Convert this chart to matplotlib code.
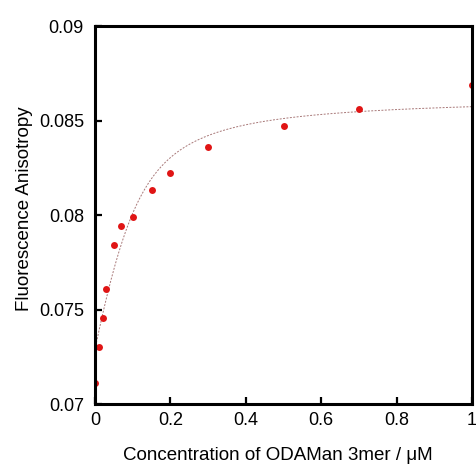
import numpy as np
import matplotlib
matplotlib.use('Agg')
import matplotlib.pyplot as plt

plt.rcParams['font.family'] = ['Liberation Sans', 'DejaVu Sans']

# measured anisotropy vs ligand concentration
conc = [0.0, 0.01, 0.02, 0.03, 0.05, 0.07, 0.10, 0.15, 0.20, 0.30, 0.50, 0.70, 1.00]
anisotropy = [0.0711, 0.0730, 0.07455, 0.0761, 0.0784, 0.0794, 0.0799,
              0.0813, 0.0822, 0.0836, 0.0847, 0.0856, 0.0869]

# fitted binding model parameters (quadratic / ligand depletion)
r_free = 0.0729
r_delta = 0.0134
probe_conc = 0.10
kd = 0.04

xticks = [0, 0.2, 0.4, 0.6, 0.8, 1]
xticklabels = ['0', '0.2', '0.4', '0.6', '0.8', '1']
yticks = [0.07, 0.075, 0.08, 0.085, 0.09]
yticklabels = ['0.07', '0.075', '0.08', '0.085', '0.09']


def binding_fit(x):
    s = probe_conc + x + kd
    frac = (s - np.sqrt(s ** 2 - 4 * probe_conc * x)) / (2 * probe_conc)
    return r_free + r_delta * frac


fig = plt.figure(figsize=(4.76, 4.66), dpi=100)
ax = fig.add_axes([0.1996, 0.133, 0.792, 0.8112])

xfit = np.linspace(0, 1, 400)
ax.plot(xfit, binding_fit(xfit), linestyle=(0, (2, 1.5)), color='#a87878',
        linewidth=0.7)
ax.plot(conc, anisotropy, 'o', color='#e01515', markersize=5,
        markeredgewidth=0)

ax.set_xlim(0, 1)
ax.set_ylim(0.07, 0.09)
ax.set_xticks(xticks)
ax.set_xticklabels(xticklabels)
ax.set_yticks(yticks)
ax.set_yticklabels(yticklabels)

for side in ['left', 'bottom', 'top', 'right']:
    ax.spines[side].set_linewidth(2.2)
ax.tick_params(direction='in', length=5, width=1.6, labelsize=13)
ax.tick_params(axis='y', pad=8)
ax.tick_params(axis='x', pad=6)

ax.set_xlabel('Concentration of ODAMan 3mer / μM', fontsize=13.5)
ax.set_ylabel('Fluorescence Anisotropy', fontsize=13.5)
ax.xaxis.set_label_coords(0.485, -0.114)
ax.yaxis.set_label_coords(-0.164, 0.518)

fig.savefig('out.png', dpi=100)
